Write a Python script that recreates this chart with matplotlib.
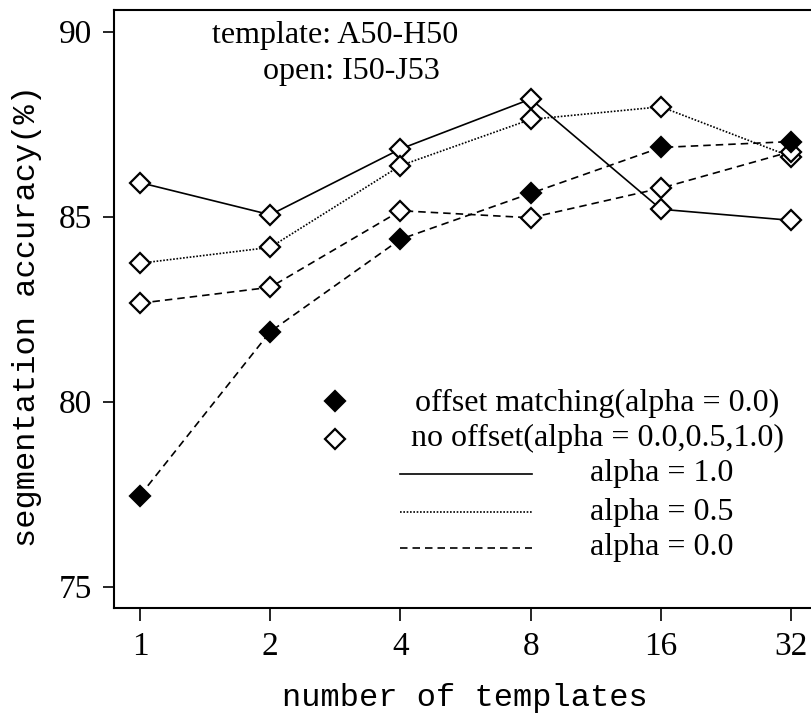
import matplotlib
matplotlib.use("Agg")
import matplotlib.pyplot as plt

# number of templates (log2 spaced)
templates = [1, 2, 4, 8, 16, 32]
tick_labels = ["1", "2", "4", "8", "16", "32"]

# segmentation accuracy (%)
offset_a00 = [77.46, 81.89, 84.39, 85.63, 86.87, 87.03]
nooffset_a10 = [85.92, 85.05, 86.83, 88.18, 85.20, 84.90]
nooffset_a05 = [83.74, 84.17, 86.38, 87.63, 87.97, 86.62]
nooffset_a00 = [82.66, 83.09, 85.16, 84.97, 85.77, 86.76]

serif = "Liberation Serif"
mono = "Liberation Mono"

fig = plt.figure(figsize=(8.12, 7.16), dpi=100)
ax = fig.add_axes([114 / 812, 1 - 608 / 716, 698 / 812, 598.5 / 716])

lw = 1.2
ms = 10.5
mew = 1.6
dash = (0, (4.5, 3))
dot = (0, (1, 1))

ax.plot(templates, nooffset_a10, color="black", lw=lw, linestyle="-",
        marker="D", ms=ms, mfc="white", mec="black", mew=mew)
ax.plot(templates, nooffset_a05, color="black", lw=lw, linestyle=dot,
        marker="D", ms=ms, mfc="white", mec="black", mew=mew)
ax.plot(templates, nooffset_a00, color="black", lw=lw, linestyle=dash,
        marker="D", ms=ms, mfc="white", mec="black", mew=mew)
ax.plot(templates, offset_a00, color="black", lw=lw, linestyle=dash,
        marker="D", ms=ms, mfc="black", mec="black", mew=mew)

ax.set_xscale("log", base=2)
ax.set_xlim(2 ** -0.2, 2 ** 5.16)
ax.set_ylim(74.42, 90.6)
ax.set_xticks(templates)
ax.set_xticklabels(tick_labels)
ax.minorticks_off()
ax.set_yticks([75, 80, 85, 90])

ax.tick_params(axis="both", direction="out", width=1.2, colors="black",
               labelsize=24)
ax.tick_params(axis="y", length=8, pad=8)
ax.tick_params(axis="x", length=9, pad=8)
for lab in ax.get_xticklabels() + ax.get_yticklabels():
    lab.set_fontfamily(serif)

for s in ["left", "bottom", "top"]:
    ax.spines[s].set_linewidth(1.5)
ax.spines["right"].set_visible(False)

ax.set_xlabel("number of templates", fontfamily=mono, fontsize=23)
ax.xaxis.set_label_coords(0.503, -0.150)
ax.xaxis.label.set_va("center")
ax.set_ylabel("segmentation accuracy(%)", fontfamily=mono, fontsize=23)
ax.yaxis.set_label_coords((27 - 114) / 698, 0.4887)
ax.yaxis.label.set_va("center")

# data-set note
ax.text(0.3166, 0.957, "template: A50-H50", transform=ax.transAxes,
        ha="center", va="center", fontfamily=serif, fontsize=23)
ax.text(0.340, 0.8956, "open: I50-J53", transform=ax.transAxes,
        ha="center", va="center", fontfamily=serif, fontsize=23)

# hand-built key
ax.plot([0.3166], [0.3459], transform=ax.transAxes, marker="D", ms=ms,
        mfc="black", mec="black", mew=mew, ls="none", clip_on=False)
ax.plot([0.3166], [0.2828], transform=ax.transAxes, marker="D", ms=ms,
        mfc="white", mec="black", mew=mew, ls="none", clip_on=False)
ax.text(0.692, 0.3425, "offset matching(alpha = 0.0)", transform=ax.transAxes,
        ha="center", va="center", fontfamily=serif, fontsize=23)
ax.text(0.692, 0.2836, "no offset(alpha = 0.0,0.5,1.0)", transform=ax.transAxes,
        ha="center", va="center", fontfamily=serif, fontsize=23)

key_styles = ["-", dot, dash]
key_texts = ["alpha = 1.0", "alpha = 0.5", "alpha = 0.0"]
key_y = [0.2239, 0.1604, 0.1003]
for st, tx, yy in zip(key_styles, key_texts, key_y):
    ax.plot([0.4097, 0.5989], [yy, yy], transform=ax.transAxes, color="black",
            lw=lw, linestyle=st)
    ax.text(0.682, yy, tx, transform=ax.transAxes, ha="left", va="center",
            fontfamily=serif, fontsize=23)

fig.savefig("out.png", dpi=100, facecolor="white")
